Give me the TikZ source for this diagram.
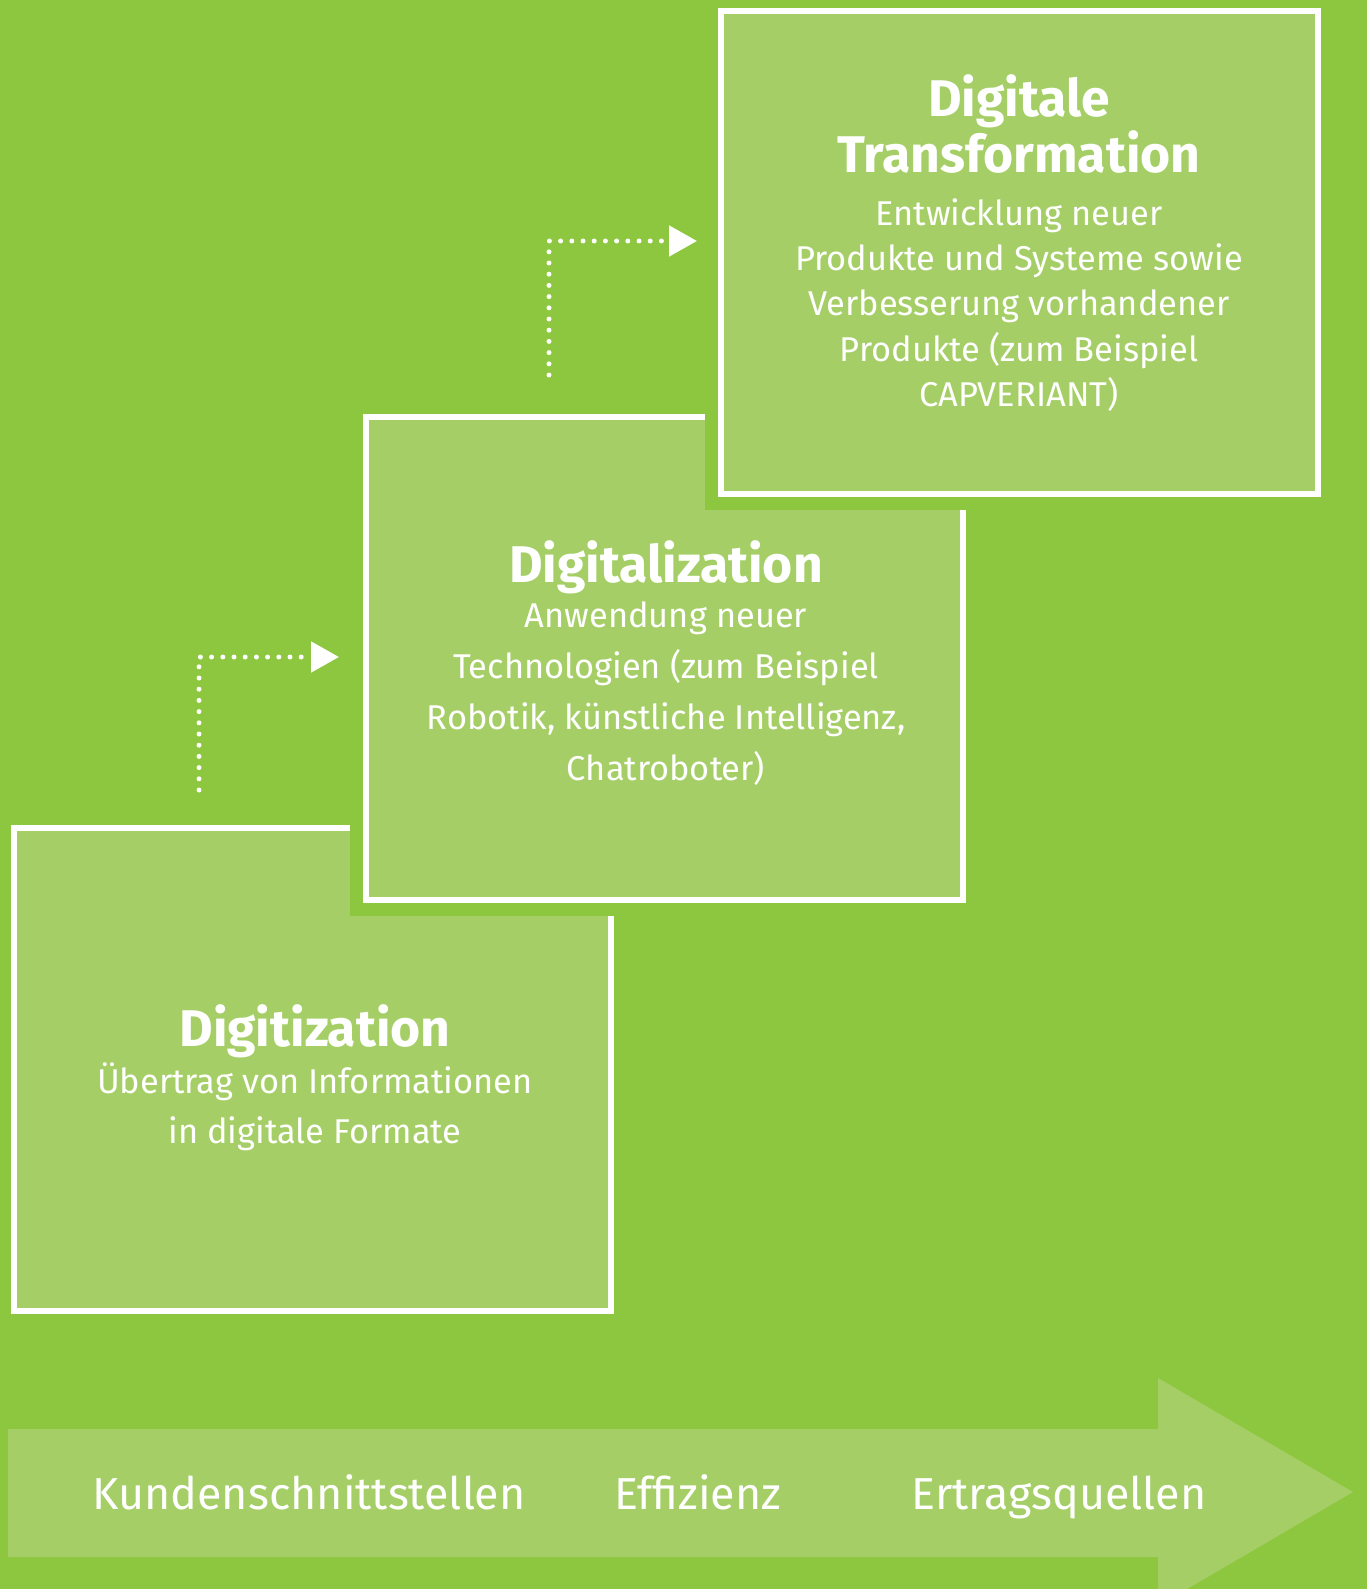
\documentclass[tikz,border=0pt]{standalone}
\usepackage{fontspec}
\setmainfont{Fira Sans}
\newfontfamily\labelfont{Fira Sans}
\usetikzlibrary{arrows.meta}

\definecolor{bggreen}{RGB}{141,198,63}
\definecolor{boxgreen}{RGB}{165,207,102}

\tikzset{
    stepbox/.style={draw=white, line width=3pt, fill=boxgreen, inner sep=0pt,
        minimum width=298.5pt, minimum height=241.5pt,
        preaction={draw=bggreen, line width=16pt}},
    steptitle/.style={text=white, align=center, inner sep=0pt,
        font=\bfseries\fontsize{25.8}{26}\selectfont},
    stepbody/.style={text=white, align=center, inner sep=0pt,
        font=\fontsize{17.2}{#1}\selectfont},
    axislabel/.style={text=white, inner sep=0pt, anchor=base,
        font=\labelfont\fontsize{22.4}{22}\selectfont},
    hop/.style={draw=white, line width=2.5pt, line cap=round,
        dash pattern=on 0pt off 5.6pt,
        -{Triangle[length=14pt, width=15pt]}}
}

\begin{document}
\begin{tikzpicture}[x=0.5pt, y=-0.5pt]
    \fill[bggreen] (0,0) rectangle (1367,1589);
    \useasboundingbox (0,0) rectangle (1367,1589);

    % arrow along the bottom
    \fill[boxgreen] (8,1429) -- (1158,1429) -- (1158,1378) -- (1353,1492)
        -- (1158,1606) -- (1158,1557) -- (8,1557) -- cycle;
    \node[axislabel] (kunden) at (309,1509) {Kundenschnittstellen};
    \node[axislabel] (effizienz) at (698,1509) {Effizienz};
    \node[axislabel] (ertrag) at (1059,1509) {Ertragsquellen};

    % the three steps
    \node[stepbox] (digitization) at (312,1069.5) {};
    \node[stepbox] (digitalization) at (664.5,658) {};
    \node[stepbox] (transformation) at (1019.5,252.5) {};

    \node[steptitle] (t1) at (315,1031) {Digitization};
    \node[stepbody=25pt] (b1) at (315,1107) {Übertrag von Informationen\\in digitale Formate};

    \node[steptitle] (t2) at (666,567) {Digitalization};
    \node[stepbody=25.5pt] (b2) at (666,694) {Anwendung neuer\\Technologien (zum Beispiel\\Robotik, künstliche Intelligenz,\\Chatroboter)};

    \node[steptitle] (t3) at (1019,124) {Digitale\\Transformation};
    \node[stepbody=22.7pt] (b3) at (1019,305) {Entwicklung neuer\\Produkte und Systeme sowie\\Verbesserung vorhandener\\Produkte (zum Beispiel\\CAPVERIANT)};

    % dotted hops
    \coordinate (h1s) at (199,790);
    \coordinate (h1e) at (339,657);
    \coordinate (h2s) at (549,375);
    \coordinate (h2e) at (697,241);
    \draw[hop] (h1s) |- (h1e);
    \draw[hop] (h2s) |- (h2e);
\end{tikzpicture}
\end{document}
